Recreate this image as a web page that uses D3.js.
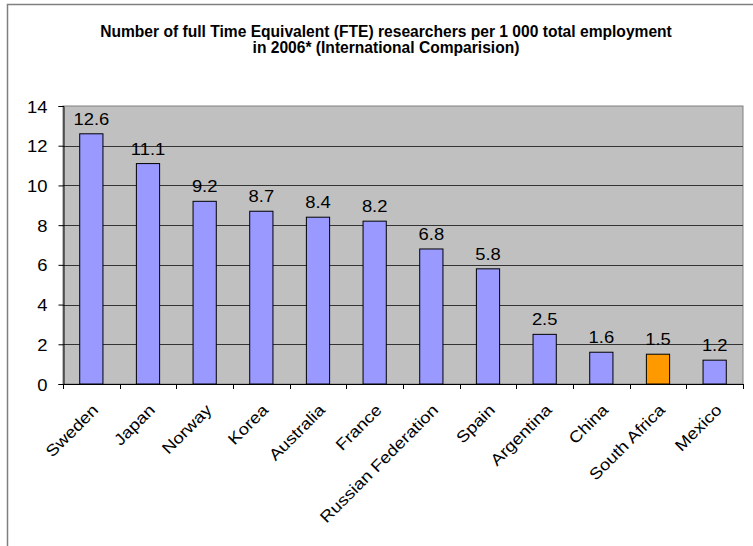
<!DOCTYPE html>
<html>
<head>
<meta charset="utf-8">
<script src="https://cdn.jsdelivr.net/npm/d3@7"></script>
<style>
  body { margin: 0; background: #fff; }
  text { font-family: "Liberation Sans", Arial, sans-serif; }
</style>
</head>
<body>
<div id="content"></div>
<script>
const countries = ['Sweden', 'Japan', 'Norway', 'Korea', 'Australia', 'France',
  'Russian Federation', 'Spain', 'Argentina', 'China', 'South Africa', 'Mexico'];
const researchers = [12.6, 11.1, 9.2, 8.7, 8.4, 8.2, 6.8, 5.8, 2.5, 1.6, 1.5, 1.2];
const highlight = ['South Africa'];
const yTicks = [0, 2, 4, 6, 8, 10, 12, 14];
const titleLines = ['Number of full Time Equivalent (FTE) researchers per 1 000 total employment',
  'in 2006* (International Comparision)'];

const W = 753, H = 546;
const plot = { left: 63, right: 743, top: 106, bottom: 384 };
const stretch = 'scale(1.15,1)'; // excel text renders a bit wide

const svg = d3.select('#content').append('svg')
  .attr('width', W).attr('height', H);

// chart frame
svg.append('rect')
  .attr('x', 7.5).attr('y', 4.5)
  .attr('width', W + 20).attr('height', H + 20)
  .attr('fill', '#fff').attr('stroke', '#808080').attr('stroke-width', 1.5);

svg.append('text')
  .attr('x', 386).attr('y', 37)
  .attr('text-anchor', 'middle')
  .style('font-size', '15.6px').style('font-weight', 'bold')
  .selectAll('tspan').data(titleLines).join('tspan')
  .attr('x', 386).attr('dy', (d, i) => i ? 16 : 0)
  .text(d => d);

const x = d3.scaleBand().domain(countries)
  .range([plot.left, plot.right]).paddingInner(0.59).paddingOuter(0.295);
const y = d3.scaleLinear().domain([0, 14]).range([plot.bottom, plot.top]);

svg.append('rect')
  .attr('x', plot.left).attr('y', plot.top)
  .attr('width', plot.right - plot.left).attr('height', plot.bottom - plot.top)
  .attr('fill', '#c0c0c0').attr('stroke', '#808080').attr('stroke-width', 1);

// gridlines
svg.append('g').selectAll('line').data(yTicks.filter(d => d > 0 && d < 14)).join('line')
  .attr('x1', plot.left).attr('x2', plot.right)
  .attr('y1', d => Math.round(y(d)) + 0.5).attr('y2', d => Math.round(y(d)) + 0.5)
  .attr('stroke', '#333').attr('stroke-width', 1);

// bars
svg.append('g').selectAll('rect').data(countries).join('rect')
  .attr('x', d => x(d)).attr('width', x.bandwidth())
  .attr('y', (d, i) => y(researchers[i]))
  .attr('height', (d, i) => y(0) - y(researchers[i]))
  .attr('fill', d => highlight.includes(d) ? '#ff9900' : '#9999ff')
  .attr('stroke', '#000').attr('stroke-width', 1);

// value labels
svg.append('g').selectAll('text').data(countries).join('text')
  .attr('transform', (d, i) => `translate(${x(d) + x.bandwidth() / 2},${y(researchers[i]) - 9}) ${stretch}`)
  .attr('text-anchor', 'middle')
  .style('font-size', '16px')
  .text((d, i) => researchers[i].toFixed(1));

// y axis
const yAxis = svg.append('g')
  .attr('transform', `translate(${plot.left + 0.5},0)`)
  .call(d3.axisLeft(y).tickValues(yTicks).tickSize(5).tickPadding(0));
yAxis.select('.domain').attr('stroke', '#000');
yAxis.selectAll('line').attr('stroke', '#000');
yAxis.selectAll('text')
  .attr('x', null).attr('dy', null)
  .attr('transform', `translate(-16,6) ${stretch}`)
  .style('font-size', '16px').attr('font-family', null);

// x axis
const step = x.step();
const xTickPos = d3.range(countries.length + 1).map(i => plot.left + i * step);
const xAxis = svg.append('g');
xAxis.append('line')
  .attr('x1', plot.left).attr('x2', plot.right)
  .attr('y1', plot.bottom + 0.5).attr('y2', plot.bottom + 0.5)
  .attr('stroke', '#000');
xAxis.selectAll('line.tick').data(xTickPos).join('line')
  .attr('class', 'tick')
  .attr('x1', d => Math.round(d) + 0.5).attr('x2', d => Math.round(d) + 0.5)
  .attr('y1', plot.bottom).attr('y2', plot.bottom + 5)
  .attr('stroke', '#000');
xAxis.selectAll('text').data(countries).join('text')
  .attr('transform', d => `translate(${x(d) + x.bandwidth() / 2 + 8},${plot.bottom + 27}) rotate(-45) ${stretch}`)
  .attr('text-anchor', 'end')
  .style('font-size', '16px')
  .text(d => d);
</script>
</body>
</html>
